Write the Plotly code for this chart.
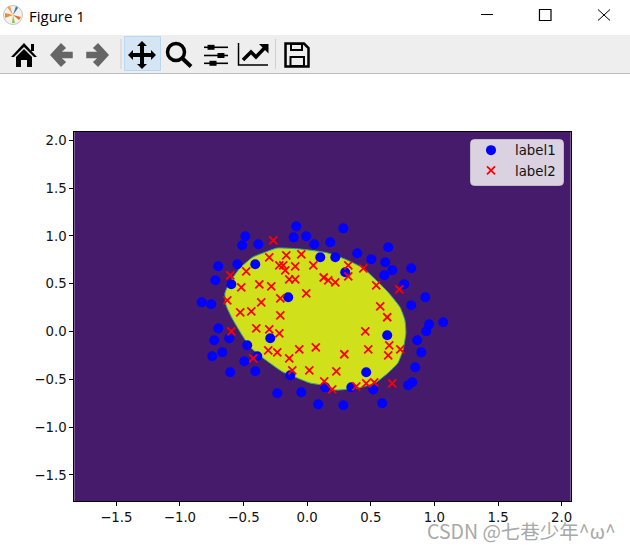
# -*- coding: utf-8 -*-
"""
Decision region with two labelled point sets, shown inside a figure window.
"""

import plotly.graph_objects as go

label1_x = [
    -0.086, -0.486, -0.106, -0.007, -0.510, -0.384, 0.056, 0.103, -0.549, -0.408,
    -0.699, -0.722, -0.596, -0.149, -0.829, -0.754, -0.699, -0.730, -0.612, -0.290,
    -0.471, -0.667, -0.746, -0.392, -0.494, -0.604, -0.408, -0.133, -0.235, -0.046,
    0.087, 0.142, 0.284, 0.182, 0.637, 0.394, 0.221, 0.504, 0.614, 0.669,
    0.818, 0.299, 0.606, 0.763, 0.928, 0.818, 0.959, 1.069, 0.936, 0.629,
    0.865, 0.897, 0.849, 0.464, 0.826, 0.794, 0.347, 0.519, 0.284, 0.590,
]
label1_y = [
    1.100, 0.996, 0.985, 0.996, 0.902, 0.912, 0.912, 0.776, 0.703, 0.703,
    0.682, 0.536, 0.494, 0.358, 0.305, 0.285, 0.033, -0.092, -0.071, -0.071,
    -0.144, -0.218, -0.259, -0.259, -0.312, -0.427, -0.416, -0.458, -0.646, -0.636,
    -0.762, -0.584, 1.079, 0.933, 0.881, 0.818, 0.776, 0.755, 0.724, 0.640,
    0.661, 0.619, 0.588, 0.494, 0.358, 0.274, 0.075, 0.096, 0.002, -0.040,
    -0.092, -0.218, -0.374, -0.427, -0.531, -0.563, -0.584, -0.605, -0.772, -0.751,
]
label2_x = [
    -0.266, -0.298, -0.164, -0.046, 0.048, -0.219, -0.188, -0.094, -0.172, -0.479,
    -0.604, -0.141, -0.094, 0.130, -0.376, -0.282, -0.518, -0.007, -0.211, -0.628,
    -0.361, -0.526, -0.439, -0.211, -0.400, -0.298, -0.596, -0.219, 0.068, -0.062,
    -0.306, -0.235, -0.141, -0.424, 0.017, -0.117, 0.134, 0.323, 0.441, 0.166,
    0.221, 0.323, 0.543, 0.724, 0.574, 0.629, 0.457, 0.645, 0.480, 0.732,
    0.292, 0.637, 0.229, 0.464, 0.527, 0.669, 0.197, 0.386,
]
label2_y = [
    0.954, 0.776, 0.797, 0.808, 0.692, 0.692, 0.692, 0.682, 0.640, 0.630,
    0.588, 0.546, 0.546, 0.565, 0.494, 0.473, 0.462, 0.400, 0.347, 0.326,
    0.305, 0.201, 0.211, 0.169, 0.033, 0.023, 0.002, -0.019, -0.165, -0.186,
    -0.197, -0.218, -0.280, -0.280, -0.406, -0.406, -0.521, 0.692, 0.661, 0.536,
    0.515, 0.577, 0.483, 0.441, 0.264, 0.149, 0.002, -0.144, -0.186, -0.186,
    -0.238, -0.249, -0.416, -0.542, -0.531, -0.542, -0.605, -0.573,
]
# outline of the region the classifier calls positive
region_x = [
    -0.235, -0.057, 0.101, 0.163, 0.297, 0.438, 0.541, 0.635, 0.729, 0.768, 0.776,
    0.753, 0.713, 0.635, 0.533, 0.399, 0.218, 0.116, 0.022, -0.096, -0.191, -0.347,
    -0.449, -0.512, -0.591, -0.638, -0.646, -0.607, -0.528, -0.426, -0.347, -0.235,
]
region_y = [
    0.873, 0.863, 0.837, 0.821, 0.758, 0.664, 0.539, 0.413, 0.256, 0.120, -0.016,
    -0.194, -0.329, -0.434, -0.539, -0.591, -0.612, -0.560, -0.539, -0.476, -0.424, -0.277,
    -0.162, -0.037, 0.141, 0.277, 0.403, 0.518, 0.664, 0.779, 0.821, 0.873,
]
tick_values = [-1.5, -1.0, -0.5, 0.0, 0.5, 1.0, 1.5, 2.0]
x_range = [-1.830, 2.071]
y_range = [-1.773, 2.087]

WIDTH, HEIGHT = 630, 550
PURPLE = '#471b6b'
YELLOW = '#d0e11c'
TICK_FONT = dict(family='DejaVu Sans', size=13.3, color='#111111')


def fx(px):
    return px / WIDTH


def fy(py):
    return 1 - py / HEIGHT


def poly(points, closed=True):
    # window pixels -> svg path in paper coordinates
    path = 'M ' + ' L '.join('{:.4f},{:.4f}'.format(fx(x), fy(y)) for x, y in points)
    return path + ' Z' if closed else path


def shape_path(points, fill=None, line=None, width=0, closed=True):
    return dict(
        type='path', xref='paper', yref='paper', path=poly(points, closed),
        fillcolor=fill if fill else 'rgba(0,0,0,0)',
        line=dict(color=line if line else 'rgba(0,0,0,0)', width=width),
        layer='above',
    )


def shape_box(x0, y0, x1, y1, fill=None, line=None, width=0):
    return shape_path([(x0, y0), (x1, y0), (x1, y1), (x0, y1)], fill, line, width)


def rounded_box(x0, y0, x1, y1, r, fill, line):
    path = (
        'M {a},{t} L {b},{t} Q {x1},{t} {x1},{c} L {x1},{d} Q {x1},{bo} {b},{bo} '
        'L {a},{bo} Q {x0},{bo} {x0},{d} L {x0},{c} Q {x0},{t} {a},{t} Z'
    ).format(
        a=fx(x0 + r), b=fx(x1 - r), x0=fx(x0), x1=fx(x1), t=fy(y0), bo=fy(y1),
        c=fy(y0 + r), d=fy(y1 - r),
    )
    return dict(type='path', xref='paper', yref='paper', path=path, fillcolor=fill,
                line=dict(color=line, width=1), layer='above')


def circle(cx, cy, r, fill=None, line=None, width=0):
    return dict(
        type='circle', xref='paper', yref='paper',
        x0=fx(cx - r), x1=fx(cx + r), y0=fy(cy + r), y1=fy(cy - r),
        fillcolor=fill if fill else 'rgba(0,0,0,0)',
        line=dict(color=line if line else 'rgba(0,0,0,0)', width=width), layer='above',
    )


def window_chrome():
    gray = '#666666'
    shapes = [
        shape_box(0, 35, WIDTH, 73, fill='#eeeeee'),
        shape_box(0, 73, WIDTH, 74, fill='#bbbbbb'),
        # title bar buttons
        shape_path([(481, 14.5), (493, 14.5)], line='#000000', width=1, closed=False),
        shape_box(539.5, 9.5, 551, 20.5, line='#000000', width=1.2),
        shape_path([(598, 9.5), (610, 20.5)], line='#000000', width=1, closed=False),
        shape_path([(598, 20.5), (610, 9.5)], line='#000000', width=1, closed=False),
        # app icon
        circle(13, 15, 9.5, fill='#f4f2ee', line='#c8c4bc', width=1),
        shape_path([(13, 15), (5, 13), (5, 18)], fill='#f08c2e'),
        shape_path([(13, 15), (7, 7), (10, 6)], fill='#f0a050'),
        shape_path([(13, 15), (16, 6), (18, 8)], fill='#3c78b4'),
        shape_path([(13, 15), (21, 17), (19, 20)], fill='#e0702a'),
        shape_path([(13, 15), (12, 23), (15, 23)], fill='#8cc850'),
        # home
        shape_path([(24, 43), (11, 57), (14, 57), (24, 47), (34, 57), (37, 57)], fill='#000000'),
        shape_path([(16, 57), (24, 49), (32, 57), (32, 67), (27, 67), (27, 60), (21, 60), (21, 67), (16, 67)],
                   fill='#000000'),
        shape_box(31, 44, 34, 51, fill='#000000'),
        # back and forward
        shape_path([(51, 55), (61, 44), (65, 48), (60, 52.5), (72, 52.5), (72, 57.5), (60, 57.5), (65, 62), (61, 66)],
                   fill=gray, line=gray, width=1.5),
        shape_path([(108, 55), (98, 44), (94, 48), (99, 52.5), (87, 52.5), (87, 57.5), (99, 57.5), (94, 62), (98, 66)],
                   fill=gray, line=gray, width=1.5),
        # separators
        shape_box(120.5, 39, 121.5, 69, fill='#cfcfcf'),
        shape_box(275, 39, 276, 69, fill='#cfcfcf'),
        # pan, active
        shape_box(124.5, 36.5, 160.5, 70.5, fill='#d5e5f3', line='#b5d8f5', width=1),
        shape_path([
            (142, 41), (147, 46), (144, 46), (144, 53), (151, 53), (151, 50), (156, 55), (151, 60), (151, 57),
            (144, 57), (144, 64), (147, 64), (142, 69), (137, 64), (140, 64), (140, 57), (133, 57), (133, 60),
            (128, 55), (133, 50), (133, 53), (140, 53), (140, 46), (137, 46),
        ], fill='#000000'),
        # zoom
        circle(176, 52, 8.5, line='#000000', width=3.5),
        shape_path([(182.5, 58.5), (191, 66.5)], line='#000000', width=4, closed=False),
    ]
    # subplots sliders
    for level, knob in [(47.3, 211), (55.5, 221), (63.3, 213)]:
        shapes.append(shape_path([(204, level), (228, level)], line='#000000', width=1.6, closed=False))
        shapes.append(shape_box(knob - 3.5, level - 2.5, knob + 3.5, level + 2.5, fill='#000000'))
    shapes += [
        # axes icon
        shape_path([(238.5, 43), (238.5, 65), (268, 65)], line='#000000', width=1.5, closed=False),
        shape_path([(243, 60), (251, 52), (256, 57), (265, 47.5)], line='#000000', width=3.5, closed=False),
        shape_path([(259, 44), (268.5, 44), (268.5, 53.5)], fill='#000000'),
        # save
        shape_path([(285.5, 43.5), (304, 43.5), (308.5, 48), (308.5, 66.5), (285.5, 66.5)],
                   line='#000000', width=2.5),
        shape_box(291, 44, 302, 50, line='#000000', width=2),
        shape_box(290.5, 57, 304, 66, line='#000000', width=2),
        # legend frame, drawn here so it gets the round corners
        rounded_box(470.5, 139.5, 563.5, 185.5, 4, 'rgba(255,255,255,0.8)', 'rgba(204,204,204,0.8)'),
    ]
    return shapes


fig = go.Figure()
fig.add_trace(go.Scatter(
    x=region_x, y=region_y, mode='lines', fill='toself', fillcolor=YELLOW,
    line=dict(color='#2fa58c', width=1, shape='spline', smoothing=0.5),
    showlegend=False, hoverinfo='skip',
))
fig.add_trace(go.Scatter(
    x=label1_x, y=label1_y, mode='markers', name='label1',
    marker=dict(symbol='circle', size=10, color='#0000ff'),
))
fig.add_trace(go.Scatter(
    x=label2_x, y=label2_y, mode='markers', name='label2',
    marker=dict(symbol='x-thin', size=8, color='#ff0000', line=dict(color='#ff0000', width=1.8)),
))

fig.update_layout(
    width=WIDTH, height=HEIGHT,
    margin=dict(l=0, r=0, t=0, b=0, autoexpand=False),
    paper_bgcolor='#ffffff', plot_bgcolor=PURPLE,
    font=TICK_FONT,
    shapes=window_chrome(),
    legend=dict(
        x=fx(467), y=fy(135), xanchor='left', yanchor='top',
        bgcolor='rgba(0,0,0,0)', borderwidth=0, font=TICK_FONT,
        itemwidth=38, tracegroupgap=0,
    ),
    annotations=[
        dict(text='Figure 1', xref='paper', yref='paper', x=fx(27), y=fy(16), xanchor='left',
             yanchor='middle', showarrow=False,
             font=dict(family='Open Sans', size=15, color='#000000')),
        dict(text='CSDN @七巷少年^ω^', xref='paper', yref='paper', x=fx(425), y=fy(530),
             xanchor='left', yanchor='middle', showarrow=False,
             font=dict(family='Noto Sans CJK SC', size=19.5, color='#a8a8a8')),
    ],
)
axis_style = dict(
    showgrid=False, zeroline=False, showline=True, linecolor='#000000', linewidth=1, mirror=True,
    ticks='outside', ticklen=4, tickwidth=1, tickcolor='#000000',
    tickvals=tick_values, tickformat='.1f', tickfont=TICK_FONT, automargin=False,
)
fig.update_xaxes(range=x_range, domain=[fx(74.3), fx(570.7)], **axis_style)
fig.update_yaxes(range=y_range, domain=[fy(501), fy(132)], **axis_style)

# browser default body margin would push the window 8px off
fig.write_html("out.html", config=dict(displayModeBar=False),
               post_script="document.body.style.margin='0';")
